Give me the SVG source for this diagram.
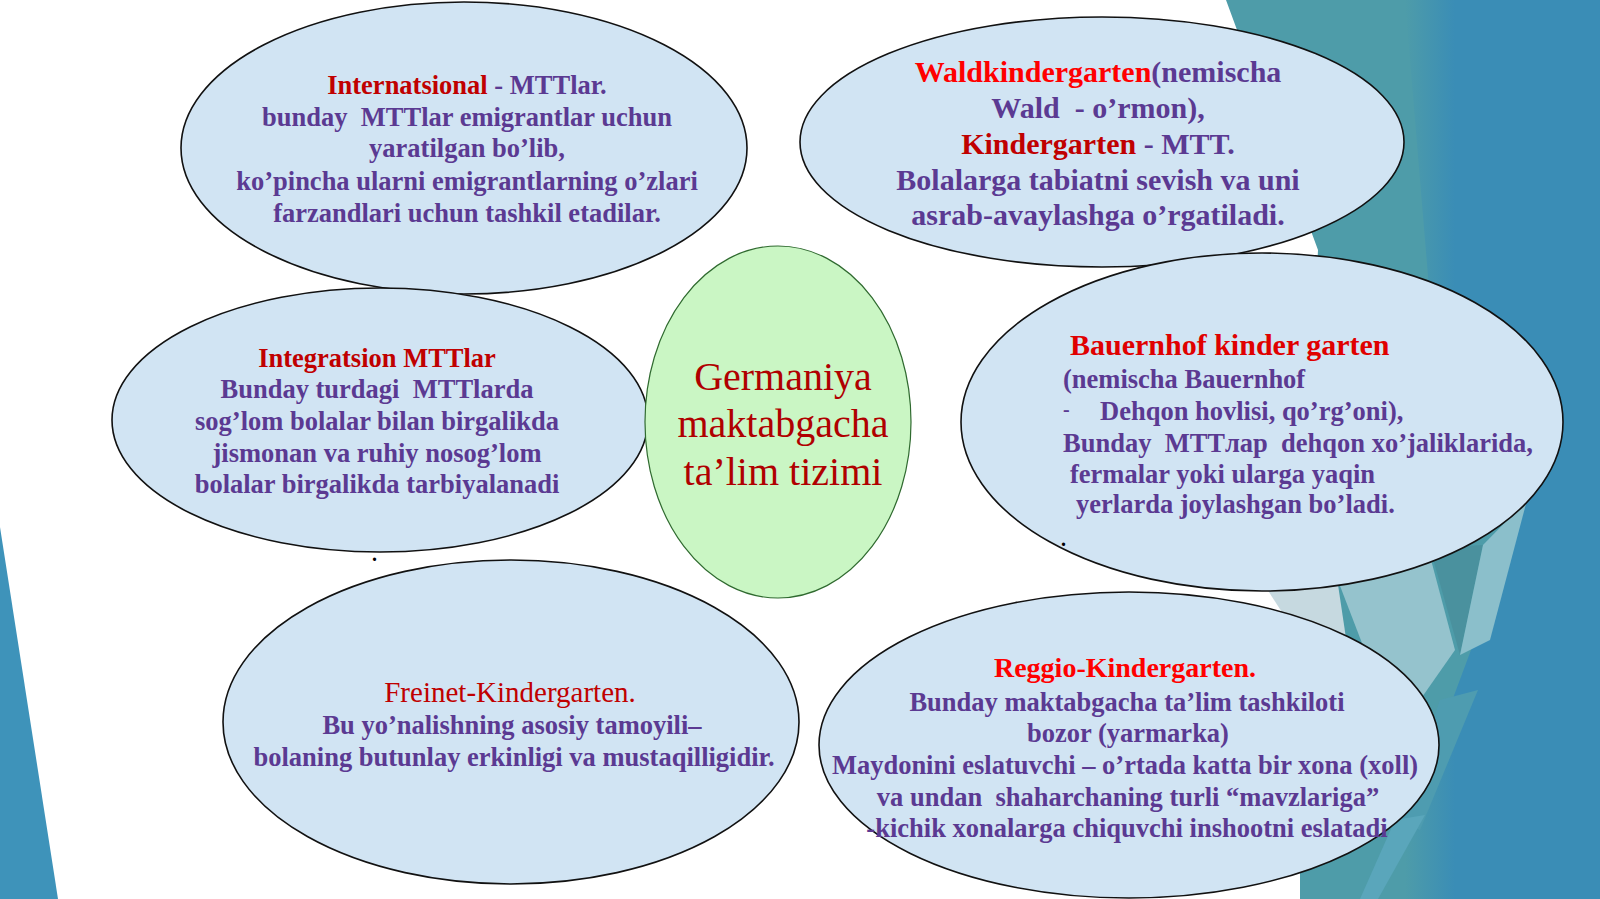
<svg xmlns="http://www.w3.org/2000/svg" width="1600" height="899" viewBox="0 0 1600 899">
<style>
.bub{fill:#D1E4F3;stroke:#111;stroke-width:1.6}
.ctr{fill:#CAF6C4;stroke:#2F6A2F;stroke-width:1.2}
.t{font-family:"Liberation Serif","Times New Roman",serif;font-weight:bold;font-size:26.5px;fill:#5B3A92}
.c{text-anchor:middle}
.big{font-size:30px}
.red{fill:#E00000}
.dred{fill:#C00000}
.reg{font-weight:normal}
.title{font-family:"Liberation Serif","Times New Roman",serif;font-size:40px;fill:#B00000;text-anchor:middle}
</style>
<defs>
<linearGradient id="blueFade" gradientUnits="userSpaceOnUse" x1="1405" y1="0" x2="1455" y2="0">
<stop offset="0" stop-color="#4E9CA9"/>
<stop offset="1" stop-color="#3A8DB6"/>
</linearGradient>
</defs>
<g id="background">
<rect x="0" y="0" width="1600" height="899" fill="#FFFFFF"/>
<polygon points="0,527 58,899 0,899" fill="#3E93BA"/>
<polygon points="1226,0 1600,0 1600,899 1300,899 1300,600 1318,250" fill="#4E9CA9"/>
<polygon points="1405,0 1600,0 1600,899 1378,899 1527,500 1430,300" fill="url(#blueFade)"/>
<polygon points="1265,586 1337,578 1350,665 1300,640" fill="#C6D9E0"/>
<polygon points="1337,578 1430,556 1455,650 1420,700 1380,690" fill="#95C3CD"/>
<polygon points="1430,548 1483,545 1460,655" fill="#4A919E"/>
<polygon points="1483,545 1527,500 1490,640 1460,655" fill="#8BBFCB"/>
<polygon points="1440,700 1478,690 1420,830 1400,820" fill="#4E9CB0"/>
<polygon points="1395,820 1425,815 1378,899 1360,899" fill="#5AA6BB"/>
</g>
<g id="connectors"></g>
<g id="node-internatsional">
<ellipse class="bub" cx="464" cy="148" rx="283" ry="146"/>
<text class="t c" x="467" y="94"><tspan class="dred">Internatsional</tspan> - MTTlar.</text>
<text class="t c" x="467" y="126">bunday &#160;MTTlar emigrantlar uchun</text>
<text class="t c" x="467" y="157">yaratilgan bo’lib,</text>
<text class="t c" x="467" y="190">ko’pincha ularni emigrantlarning o’zlari</text>
<text class="t c" x="467" y="222">farzandlari uchun tashkil etadilar.</text>
</g>
<g id="node-integratsion">
<ellipse class="bub" cx="380" cy="420" rx="268" ry="132"/>
<text class="t c dred" x="377" y="367">Integratsion MTTlar</text>
<text class="t c" x="377" y="398">Bunday turdagi &#160;MTTlarda</text>
<text class="t c" x="377" y="430">sog’lom bolalar bilan birgalikda</text>
<text class="t c" x="377" y="462">jismonan va ruhiy nosog’lom</text>
<text class="t c" x="377" y="493">bolalar birgalikda tarbiyalanadi</text>
<text class="t" x="372" y="561" style="font-size:20px;fill:#000">.</text>
</g>
<g id="node-wald">
<ellipse class="bub" cx="1102" cy="142" rx="302" ry="125"/>
<text class="t c big" x="1098" y="82"><tspan fill="#FF0000">Waldkindergarten</tspan>(nemischa</text>
<text class="t c big" x="1098" y="118">Wald &#160;- o’rmon),</text>
<text class="t c big" x="1098" y="154"><tspan class="dred">Kindergarten</tspan> - MTT.</text>
<text class="t c big" x="1098" y="190">Bolalarga tabiatni sevish va uni</text>
<text class="t c big" x="1098" y="225">asrab-avaylashga o’rgatiladi.</text>
</g>
<g id="node-bauernhof">
<ellipse class="bub" cx="1262" cy="422" rx="301" ry="169"/>
<text class="t big red" x="1070" y="355">Bauernhof kinder garten</text>
<text class="t" x="1063" y="388">(nemischa Bauernhof</text>
<text class="t" x="1063" y="416" style="font-size:20px">-</text>
<text class="t" x="1100" y="420">Dehqon hovlisi, qo’rg’oni),</text>
<text class="t" x="1063" y="452">Bunday &#160;MTTлар &#160;dehqon xo’jaliklarida,</text>
<text class="t" x="1070" y="483">fermalar yoki ularga yaqin</text>
<text class="t" x="1076" y="513">yerlarda joylashgan bo’ladi.</text>
<text class="t" x="1061" y="546" style="font-size:20px;fill:#000">.</text>
</g>
<g id="node-center">
<ellipse class="ctr" cx="778" cy="422" rx="133" ry="176"/>
<text class="title" x="783" y="390">Germaniya</text>
<text class="title" x="783" y="437">maktabgacha</text>
<text class="title" x="783" y="485">ta’lim tizimi</text>
</g>
<g id="node-freinet">
<ellipse class="bub" cx="511" cy="722" rx="288" ry="162"/>
<text class="t c reg dred" x="510" y="702" style="font-size:29px">Freinet-Kindergarten.</text>
<text class="t c" x="512" y="734">Bu yo’nalishning asosiy tamoyili–</text>
<text class="t c" x="514" y="766">bolaning butunlay erkinligi va mustaqilligidir.</text>
</g>
<g id="node-reggio">
<ellipse class="bub" cx="1129" cy="745" rx="310" ry="153"/>
<text class="t c" x="1125" y="677" style="font-size:28px;fill:#FF0000">Reggio-Kindergarten.</text>
<text class="t c" x="1127" y="711">Bunday maktabgacha ta’lim tashkiloti</text>
<text class="t c" x="1128" y="742">bozor (yarmarka)</text>
<text class="t c" x="1125" y="774">Maydonini eslatuvchi – o’rtada katta bir xona (xoll)</text>
<text class="t c" x="1128" y="806">va undan &#160;shaharchaning turli “mavzlariga”</text>
<text class="t c" x="1127" y="837">-kichik xonalarga chiquvchi inshootni eslatadi</text>
</g>
</svg>
